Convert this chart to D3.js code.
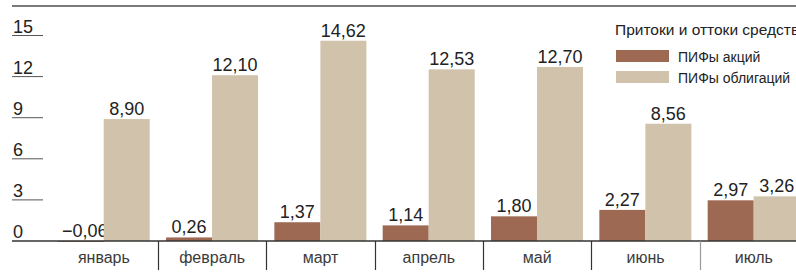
<!DOCTYPE html>
<html lang="ru">
<head>
  <meta charset="UTF-8">
  <script src="https://cdn.jsdelivr.net/npm/d3@7"></script>
  <title>Притоки и оттоки средств</title>
  <style>
    body { margin: 0; background: #fff; }
    text { font-family: "Liberation Sans Narrow", "Liberation Sans", Arial, sans-serif; fill: #222; }
    .value { font-family: "Liberation Sans", Arial, sans-serif; font-size: 18px; }
    .tick-label { font-size: 18px; }
    .cat { font-size: 16px; fill: #3a3a3a; }
    .legend-title { font-size: 15.5px; }
    .legend { font-size: 14px; }
  </style>
</head>
<body>
  <script>
      // months, series and tick labels
      var months = ["январь", "февраль", "март", "апрель", "май", "июнь", "июль"];
      var stocks = [-0.06, 0.26, 1.37, 1.14, 1.80, 2.27, 2.97];
      var bonds = [8.90, 12.10, 14.62, 12.53, 12.70, 8.56, 3.26];
      var seriesNames = ["ПИФы акций", "ПИФы облигаций"];
      var yTicks = [0, 3, 6, 9, 12, 15];
      var legendTitle = "Притоки и оттоки средств";

      var width = 796, height = 276;
      var colors = ["#9e6953", "#d1c3ab"];

      var svg = d3.select("body")
        .append("svg")
        .attr("width", width)
        .attr("height", height);

      // scales
      var x0 = d3.scaleBand().domain(months).range([49.7, 808]);
      var x1 = d3.scaleBand().domain([0, 1]).range([8, x0.bandwidth() - 8.3]);
      var y = d3.scaleLinear().domain([0, 15]).range([241, 35.5]);

      var fmt = function(v) {
        return (v < 0 ? "\u2212" : "") + d3.format(".2f")(Math.abs(v)).replace(".", ",");
      };

      // top rule
      svg.append("line")
        .attr("x1", 12).attr("x2", width)
        .attr("y1", 6).attr("y2", 6)
        .attr("stroke", "#7a7a7a").attr("stroke-width", 2);

      // y ticks: underlined labels
      var ticks = svg.append("g").selectAll("g").data(yTicks).enter().append("g");
      ticks.filter(function(d){ return d > 0; })
        .append("line")
        .attr("x1", 12).attr("x2", 43)
        .attr("y1", function(d){ return y(d); })
        .attr("y2", function(d){ return y(d); })
        .attr("stroke", "#555").attr("stroke-width", 1);
      ticks.append("text")
        .classed("tick-label", true)
        .attr("x", 13)
        .attr("y", function(d){ return y(d) - 3; })
        .text(function(d){ return d; });

      // bars
      var rows = months.map(function(m, i){ return {month: m, values: [stocks[i], bonds[i]]}; });
      var groups = svg.append("g").selectAll("g").data(rows).enter().append("g")
        .attr("transform", function(d){ return "translate(" + x0(d.month) + ",0)"; });

      var bars = groups.selectAll("g").data(function(d){ return d.values; }).enter().append("g");
      bars.append("rect")
        .attr("x", function(d, i){ return x1(i); })
        .attr("width", x1.bandwidth())
        .attr("y", function(d){ return y(Math.max(0, d)); })
        .attr("height", function(d){ return Math.abs(y(d) - y(0)); })
        .attr("fill", function(d, i){ return colors[i]; });
      bars.append("text")
        .classed("value", true)
        .attr("text-anchor", "middle")
        .attr("x", function(d, i){ return x1(i) + x1.bandwidth() / 2 + (d < 0 ? 4 : 0); })
        .attr("y", function(d){ return y(Math.max(0, d)) - 4; })
        .text(fmt);

      // zero axis
      svg.append("line")
        .attr("x1", 12).attr("x2", width)
        .attr("y1", y(0)).attr("y2", y(0))
        .attr("stroke", "#333").attr("stroke-width", 1.5);

      // category separators and labels
      svg.append("g").selectAll("line").data(months.slice(1)).enter().append("line")
        .attr("x1", function(d){ return Math.round(x0(d)) + 0.5; })
        .attr("x2", function(d){ return Math.round(x0(d)) + 0.5; })
        .attr("y1", y(0)).attr("y2", 270)
        .attr("stroke", function(d, i){ return i === months.length - 2 ? "#999" : "#333"; })
        .attr("stroke-width", 1.2);
      svg.append("g").selectAll("text").data(months).enter().append("text")
        .classed("cat", true)
        .attr("text-anchor", "middle")
        .attr("x", function(d){ return x0(d) + x0.bandwidth() / 2; })
        .attr("y", 263)
        .text(function(d){ return d; });

      // legend
      var legend = svg.append("g").attr("transform", "translate(615,0)");
      legend.append("text").classed("legend-title", true)
        .attr("x", 0).attr("y", 35).text(legendTitle);
      var items = legend.selectAll("g").data(seriesNames).enter().append("g")
        .attr("transform", function(d, i){ return "translate(0," + (50 + i * 21) + ")"; });
      items.append("rect")
        .attr("x", 1).attr("width", 53).attr("height", 12)
        .attr("fill", function(d, i){ return colors[i]; });
      items.append("text").classed("legend", true)
        .attr("x", 63).attr("y", 11.5)
        .text(function(d){ return d; });
  </script>
</body>
</html>
